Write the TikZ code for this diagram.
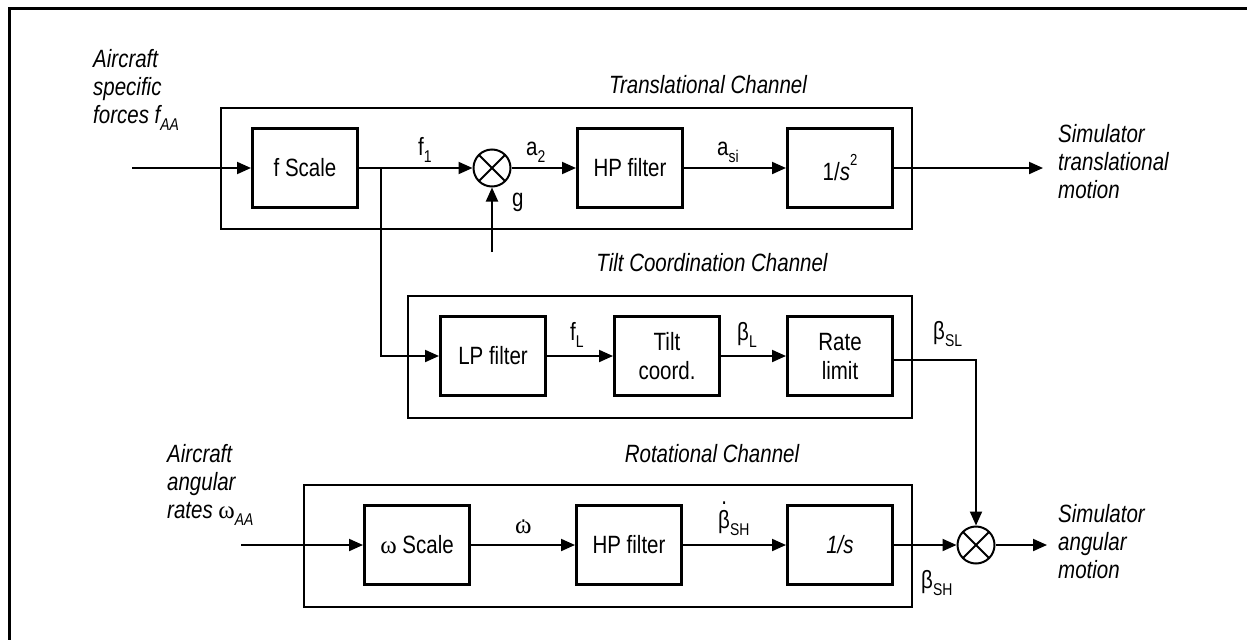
\documentclass[tikz,border=0pt]{standalone}
\usepackage{fontspec}
\setmainfont{Liberation Sans}[FakeStretch=0.82]
\newfontfamily\grk{Liberation Serif}
\usetikzlibrary{arrows.meta,calc}
\newcommand\sbx[1]{\raisebox{-0.28em}{\fontsize{17}{17}\selectfont #1}}
\newcommand\spx[1]{\raisebox{15pt}{\fontsize{16}{16}\selectfont #1}}
\newcommand\dotx[2]{\ooalign{#1\cr\hidewidth\raisebox{#2}{.}\hidewidth\cr}}
\tikzset{
  blk/.style={draw, line width=3pt, inner sep=0pt, minimum width=105pt, minimum height=79pt,
              font=\fontsize{25}{29}\selectfont, align=center},
  chan/.style={draw, line width=2pt},
  conn/.style={line width=2pt, -{Triangle[length=14pt,width=12pt]}},
  lbl/.style={inner sep=0pt, font=\fontsize{25}{28}\selectfont},
  ital/.style={inner sep=0pt, font=\fontsize{25}{28}\selectfont\itshape, align=left},
  sumj/.style={circle, draw, line width=2pt, minimum size=37pt, inner sep=0pt,
     path picture={\draw[line width=2pt] (path picture bounding box.center) ++(45:20pt) -- ++(225:40pt)
                   (path picture bounding box.center) ++(135:20pt) -- ++(315:40pt);}},
}
\begin{document}
\begin{tikzpicture}[x=1pt,y=-1pt]
\useasboundingbox (0,0) rectangle (1247,640);
% frame
\draw[line width=3.5pt] (8,8.5) -- (1247,8.5);
\draw[line width=2.4pt] (9.5,7) -- (9.5,640);
% channel boxes
\draw[chan] (221,108) rectangle (912,229);
\draw[chan] (408,296) rectangle (912,418);
\draw[chan] (304,485) rectangle (912,607);
% channel titles
\node[ital, anchor=base] (ttr) at (708,93) {Translational Channel};
\node[ital, anchor=base] (ttc) at (712,271) {Tilt Coordination Channel};
\node[ital, anchor=base] (tro) at (712,462) {Rotational Channel};
% blocks
\node[blk] (fscale) at (305,168) {f Scale};
\node[sumj] (sum1) at (492,168) {};
\node[blk] (hp1) at (630,168) {HP filter};
\node[blk] (int2) at (840,168) {1/\textit{s}\spx{2}};
\node[blk] (lp) at (493,356) {LP filter};
\node[blk] (tilt) at (667,356) {Tilt\\coord.};
\node[blk] (rate) at (840,356) {Rate\\limit};
\node[blk] (wscale) at (417,545) {{\grk ω} Scale};
\node[blk] (hp2) at (629,545) {HP filter};
\node[blk] (int1) at (840,545) {\textit{1/s}};
\node[sumj] (sum2) at (976,545) {};
% free ends
\coordinate (in1) at (132,168);
\coordinate (br) at (381,168);
\coordinate (gin) at (492,252);
\coordinate (out1) at (1043,168);
\coordinate (in2) at (241,545);
\coordinate (out2) at (1047,545);
% connectors
\draw[conn] (in1) -- (fscale.west);
\draw[conn] (fscale.east) -- (sum1.west);
\draw[conn] (br) |- (lp.west);
\draw[conn] (gin) -- (sum1.south);
\draw[conn] (sum1.east) -- (hp1.west);
\draw[conn] (hp1.east) -- (int2.west);
\draw[conn] (int2.east) -- (out1);
\draw[conn] (lp.east) -- (tilt.west);
\draw[conn] (tilt.east) -- (rate.west);
\draw[conn] ([yshift=-4pt]rate.east) -| (sum2.north);
\draw[conn] (in2) -- (wscale.west);
\draw[conn] (wscale.east) -- (hp2.west);
\draw[conn] (hp2.east) -- (int1.west);
\draw[conn] (int1.east) -- (sum2.west);
\draw[conn] (sum2.east) -- (out2);
% signal labels
\node[lbl, anchor=base west] (lf1) at (418,155) {f\sbx{1}};
\node[lbl, anchor=base west] (la2) at (526,155) {a\sbx{2}};
\node[lbl, anchor=base west] (lasi) at (717,155) {a\sbx{si}};
\node[lbl, anchor=base west] (lg) at (512,206) {g};
\node[lbl, anchor=base west] (lfL) at (570,340) {f\sbx{L}};
\node[lbl, anchor=base west] (lbL) at (737,340) {β\sbx{L}};
\node[lbl, anchor=base west] (lbSL) at (933,339) {β\sbx{SL}};
\node[lbl, anchor=base west] (lwd) at (515,533) {\dotx{{\grk ω}}{0.42em}};
\node[lbl, anchor=base west] (lbd) at (718,528) {\dotx{β}{0.95em}\sbx{SH}};
\node[lbl, anchor=base west] (lbSH) at (921,588) {β\sbx{SH}};
% side texts
\node[ital, anchor=north west] (tin1) at (93,49) {Aircraft\\specific\\forces f\sbx{AA}};
\node[ital, anchor=north west] (tin2) at (167,444) {Aircraft\\angular\\rates {\grk\upshape ω}\sbx{AA}};
\node[ital, anchor=north west] (tout1) at (1058,124) {Simulator\\translational\\motion};
\node[ital, anchor=north west] (tout2) at (1058,504) {Simulator\\angular\\motion};
\end{tikzpicture}
\end{document}
